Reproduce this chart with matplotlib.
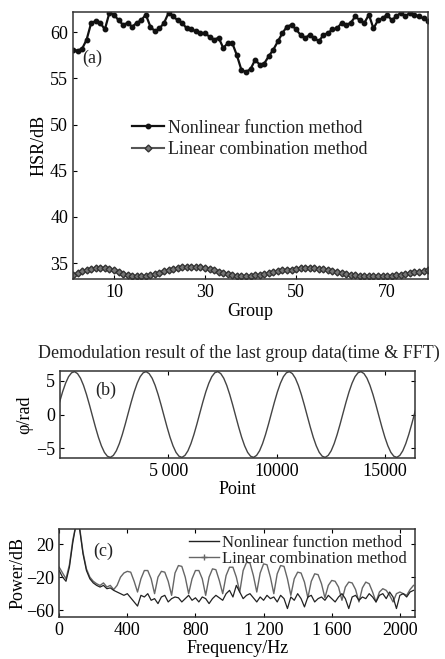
import matplotlib
matplotlib.use('Agg')
import matplotlib.pyplot as plt
from matplotlib.lines import Line2D
import numpy as np

plt.rcParams['font.family'] = ['Liberation Serif', 'DejaVu Serif']
plt.rcParams['axes.linewidth'] = 1.1
plt.rcParams['text.color'] = '#222222'
plt.rcParams['axes.edgecolor'] = '#333333'

# (a) HSR per group
group = np.arange(1, 80)
hsr_nonlinear = [58.1, 58.0, 58.2, 59.2, 61.0, 61.2, 61.0, 60.3, 62.1, 61.9,
                 61.3, 60.8, 61.0, 60.6, 61.0, 61.3, 61.9, 60.6, 60.1, 60.4,
                 61.0, 62.1, 61.7, 61.3, 61.0, 60.4, 60.3, 60.1, 59.9, 59.9,
                 59.5, 59.2, 59.4, 58.3, 58.8, 58.8, 57.5, 55.9, 55.7, 56.0,
                 57.0, 56.5, 56.6, 57.4, 58.1, 59.0, 59.9, 60.6, 60.8, 60.3,
                 59.7, 59.4, 59.7, 59.4, 59.0, 59.7, 59.9, 60.3, 60.4, 61.0,
                 60.8, 61.0, 61.7, 61.3, 61.0, 61.9, 60.4, 61.3, 61.5, 61.9,
                 61.3, 61.7, 62.1, 61.7, 62.1, 61.9, 61.7, 61.5, 61.2]
hsr_linear = [33.7, 33.9, 34.1, 34.3, 34.4, 34.5, 34.5, 34.5, 34.4, 34.2,
              34.0, 33.8, 33.7, 33.6, 33.6, 33.6, 33.6, 33.7, 33.8, 33.9,
              34.1, 34.3, 34.4, 34.5, 34.6, 34.6, 34.6, 34.6, 34.6, 34.5,
              34.4, 34.2, 34.0, 33.9, 33.8, 33.7, 33.6, 33.6, 33.6, 33.6,
              33.7, 33.7, 33.8, 33.9, 34.0, 34.1, 34.2, 34.3, 34.3, 34.4,
              34.5, 34.5, 34.5, 34.5, 34.4, 34.4, 34.3, 34.1, 34.0, 33.9,
              33.8, 33.7, 33.7, 33.6, 33.6, 33.6, 33.6, 33.6, 33.6, 33.6,
              33.6, 33.7, 33.7, 33.8, 33.9, 34.0, 34.0, 34.1, 34.2]

# (b) demodulated phase of last group
point = np.arange(0, 16501, 137.5)
phase = [1.85, 3.35, 4.61, 5.57, 6.14, 6.30, 6.02, 5.34, 4.29, 2.95, 1.41, -0.23,
         -1.85, -3.35, -4.61, -5.57, -6.14, -6.30, -6.02, -5.34, -4.29, -2.95, -1.41, 0.23,
         1.85, 3.35, 4.61, 5.57, 6.14, 6.30, 6.02, 5.34, 4.29, 2.95, 1.41, -0.23,
         -1.85, -3.35, -4.61, -5.57, -6.14, -6.30, -6.02, -5.34, -4.29, -2.95, -1.41, 0.23,
         1.85, 3.35, 4.61, 5.57, 6.14, 6.30, 6.02, 5.34, 4.29, 2.95, 1.41, -0.23,
         -1.85, -3.35, -4.61, -5.57, -6.14, -6.30, -6.02, -5.34, -4.29, -2.95, -1.41, 0.23,
         1.85, 3.35, 4.61, 5.57, 6.14, 6.30, 6.02, 5.34, 4.29, 2.95, 1.41, -0.23,
         -1.85, -3.35, -4.61, -5.57, -6.14, -6.30, -6.02, -5.34, -4.29, -2.95, -1.41, 0.23,
         1.85, 3.35, 4.61, 5.57, 6.14, 6.30, 6.02, 5.34, 4.29, 2.95, 1.41, -0.23,
         -1.85, -3.35, -4.61, -5.57, -6.14, -6.30, -6.02, -5.34, -4.29, -2.95, -1.41, 0.23,
         1.85]

# (c) power spectrum
freq = np.arange(0, 2081, 20)
pow_linear = [-8, -15, -22, -5, 25, 45, 40, 10, -10, -20,
              -25, -28, -30, -27, -32, -30, -35, -30, -20, -15,
              -13, -14, -25, -38, -22, -12, -12, -22, -40, -20,
              -13, -14, -25, -42, -15, -6, -7, -20, -40, -22,
              -12, -12, -22, -42, -20, -10, -11, -24, -40, -18,
              -8, -8, -20, -38, -12, -2, -3, -18, -38, -15,
              -4, -5, -20, -40, -16, -6, -7, -22, -42, -22,
              -14, -15, -26, -45, -25, -16, -17, -28, -45, -30,
              -24, -25, -32, -48, -32, -26, -27, -35, -50, -33,
              -26, -28, -38, -50, -38, -34, -36, -42, -50, -40,
              -38, -40, -42, -35, -30]
pow_nonlinear = [-12, -20, -25, -8, 22, 45, 38, 8, -12, -22,
                 -27, -30, -32, -30, -34, -33, -36, -38, -40, -42,
                 -40, -45, -50, -55, -42, -44, -40, -48, -46, -52,
                 -44, -42, -50, -46, -44, -45, -50, -46, -42, -48,
                 -45, -50, -44, -46, -52, -46, -42, -45, -48, -40,
                 -36, -44, -30, -38, -46, -42, -40, -45, -50, -44,
                 -48, -42, -46, -44, -50, -42, -46, -58, -44, -48,
                 -40, -46, -56, -44, -42, -50, -46, -44, -48, -42,
                 -46, -50, -44, -40, -46, -58, -44, -42, -48, -44,
                 -46, -40, -44, -50, -42, -40, -46, -38, -44, -58,
                 -42, -40, -44, -38, -36]

fig = plt.figure(figsize=(4.45, 6.59), dpi=100)

# ---- (a)
ax1 = fig.add_axes([0.164, 0.577, 0.798, 0.405])
ax1.plot(group, hsr_nonlinear, color='#111111', lw=1.6, marker='o', ms=3.2,
         label='Nonlinear function method')
ax1.plot(group, hsr_linear, color='#555555', lw=1.5, marker='D', ms=3.5,
         mfc='#777777', mec='#333333', label='Linear combination method')
ax1.set_xlim(1, 79)
ax1.set_ylim(33.3, 62.2)
ax1.set_xticks([10, 30, 50, 70])
ax1.set_yticks([35, 40, 45, 50, 55, 60])
ax1.tick_params(labelsize=13, direction='in', length=3)
ax1.set_xlabel('Group', fontsize=13, labelpad=2)
ax1.set_ylabel('HSR/dB', fontsize=13, labelpad=2)
ax1.text(0.025, 0.81, '(a)', transform=ax1.transAxes, fontsize=13)
ax1.legend(loc='upper left', bbox_to_anchor=(0.14, 0.63), frameon=False,
           fontsize=13, handlelength=1.8, handletextpad=0.2, labelspacing=0.25,
           borderpad=0)

# ---- (b)
fig.text(0.537, 0.464, 'Demodulation result of the last group data(time & FFT)',
         ha='center', va='center', fontsize=13)
ax2 = fig.add_axes([0.134, 0.305, 0.799, 0.132])
ax2.plot(point, phase, color='#444444', lw=1.0)
ax2.set_xlim(0, 16384)
ax2.set_ylim(-6.4, 6.4)
ax2.set_xticks([5000, 10000, 15000])
ax2.set_xticklabels(['5\u2009000', '10000', '15000'])
ax2.set_yticks([-5, 0, 5])
ax2.set_yticklabels(['\u22125', '0', '5'])
ax2.tick_params(labelsize=13, direction='in', length=3, top=True, right=True)
ax2.set_xlabel('Point', fontsize=13, labelpad=1)
ax2.set_ylabel('\u03c6/rad', fontsize=13, labelpad=2)
ax2.text(0.10, 0.72, '(b)', transform=ax2.transAxes, fontsize=13)

# ---- (c)
ax3 = fig.add_axes([0.133, 0.064, 0.80, 0.133])
ax3.plot(freq, pow_linear, color='#666666', lw=1.0)
ax3.plot(freq, pow_nonlinear, color='#222222', lw=0.9)
ax3.set_xlim(0, 2090)
ax3.set_ylim(-68, 38)
ax3.set_xticks([0, 400, 800, 1200, 1600, 2000])
ax3.set_xticklabels(['0', '400', '800', '1\u2009200', '1\u2009600', '2000'])
ax3.set_yticks([-60, -20, 20])
ax3.set_yticklabels(['\u221260', '\u221220', '20'])
ax3.tick_params(labelsize=13, direction='in', length=3, top=True, right=True)
ax3.set_xlabel('Frequency/Hz', fontsize=13, labelpad=1)
ax3.set_ylabel('Power/dB', fontsize=13, labelpad=0)
ax3.text(0.095, 0.70, '(c)', transform=ax3.transAxes, fontsize=13)
handles = [Line2D([], [], color='#222222', lw=1.0),
           Line2D([], [], color='#666666', lw=1.0, marker='+', ms=5)]
ax3.legend(handles, ['Nonlinear function method', 'Linear combination method'],
           loc='upper right', bbox_to_anchor=(1.0, 1.03), frameon=False,
           fontsize=12, handlelength=1.8, handletextpad=0.2, labelspacing=0.0,
           borderpad=0)

fig.savefig('out.png', dpi=100)
